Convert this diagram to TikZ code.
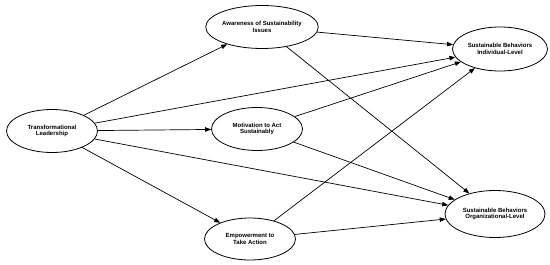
\documentclass[tikz,border=0pt]{standalone}
\usepackage{fontspec}
\setmainfont{Liberation Sans}
\usepackage{tikz}
\usetikzlibrary{shapes,arrows.meta,positioning}

\tikzset{
  latent/.style={draw,ellipse,line width=0.8pt,inner sep=0pt,align=center,
    font=\fontsize{6}{6.6}\selectfont\bfseries,minimum width=91pt,minimum height=43pt},
  link/.style={draw,line width=0.7pt,-{Triangle[length=6pt,width=4.5pt]}}
}

\begin{document}
\begin{tikzpicture}[x=1pt,y=-1pt]
    \useasboundingbox (0,0) rectangle (550,265);
    % latent variables
    \node[latent] (tl) at (52,131) {Transformational\\Leadership};
    \node[latent] (aware) at (262,27) {Awareness of Sustainability\\Issues};
    \node[latent] (motiv) at (257,129) {Motivation to Act\\Sustainably};
    \node[latent,minimum height=42pt] (empower) at (250,239) {Empowerment to\\Take Action};
    \node[latent,minimum width=95pt,minimum height=44pt] (sbind) at (500,49) {Sustainable Behaviors\\Individual-Level};
    \node[latent,minimum width=100pt,minimum height=47pt] (sborg) at (495,214) {Sustainable Behaviors\\Organizational-Level};
    % paths
    \draw[link] (tl) -- (aware);
    \draw[link] (tl) -- (motiv);
    \draw[link] (tl) -- (empower);
    \draw[link] (tl) -- (sbind);
    \draw[link] (tl) -- (sborg);
    \draw[link] (aware) -- (sbind);
    \draw[link] (aware) -- (sborg);
    \draw[link] (motiv) -- (sbind);
    \draw[link] (motiv) -- (sborg);
    \draw[link] (empower) -- (sbind);
    \draw[link] (empower) -- (sborg);
\end{tikzpicture}
\end{document}
